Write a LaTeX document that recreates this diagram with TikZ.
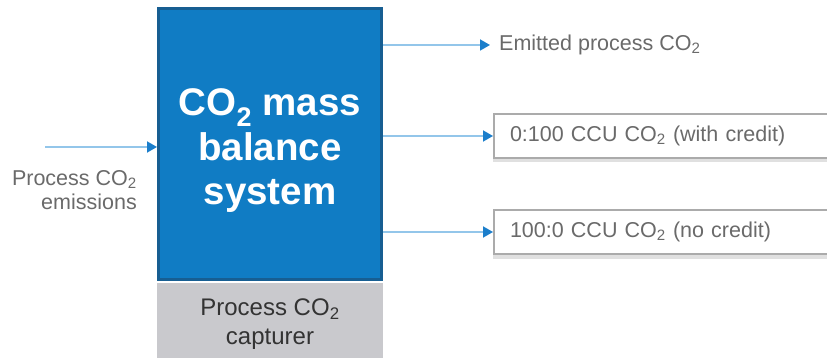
\documentclass[tikz,border=0pt]{standalone}
\usepackage{fontspec}
\setmainfont{Liberation Sans}
\usetikzlibrary{arrows.meta}
\definecolor{massblue}{HTML}{107CC4}
\definecolor{massedge}{HTML}{175E92}
\definecolor{capgray}{HTML}{C9C9CD}
\definecolor{flowline}{HTML}{93C6EA}
\definecolor{tipblue}{HTML}{1B7ECB}
\definecolor{labelgray}{HTML}{6A6A6A}
\definecolor{boxedge}{HTML}{ABABAB}
\definecolor{boxshade}{HTML}{E0E0E0}
\tikzset{
  massbox/.style={draw=massedge, line width=3pt, fill=massblue,
    minimum width=223pt, minimum height=271pt, inner sep=0pt},
  masstext/.style={text=white, font=\fontsize{38.5}{44.5}\selectfont\bfseries,
    align=center, inner sep=0pt},
  capbox/.style={fill=capgray, minimum width=226pt, minimum height=75pt, inner sep=0pt},
  captext/.style={text=black!80, font=\fontsize{24}{29}\selectfont,
    align=center, inner sep=0pt},
  outbox/.style={draw=boxedge, line width=2pt, fill=white, text=labelgray,
    font=\fontsize{21.5}{24}\selectfont, anchor=west, align=left,
    minimum width=360pt, minimum height=44pt, inner xsep=16pt, text width=328pt},
  flowlabel/.style={text=labelgray, font=\fontsize{21.5}{24}\selectfont},
  flow/.style={draw=flowline, line width=1.8pt,
    -{Triangle[color=tipblue, length=10pt, width=11pt]}}
}
\begin{document}
\begin{tikzpicture}[x=1pt, y=-1pt]
\useasboundingbox (0,0) rectangle (827,358);
% central mass balance block and the capturer beneath it
\node[massbox] (mb) at (270,144) {};
\node[masstext] (mbtext) at (270,151) {CO\textsubscript{2} mass\\balance\\system};
\node[capbox] (cap) at (270,320.5) {};
\node[captext] (captext) at (270,324) {Process CO\textsubscript{2}\\capturer};
% output boxes (with a light shadow along the bottom)
\fill[boxshade] (493,158) rectangle (840,162.5);
\fill[boxshade] (493,254) rectangle (840,258.5);
\node[outbox] (b1) at (493,136) {0:100 CCU CO\textsubscript{2} (with credit)};
\node[outbox] (b2) at (493,232) {100:0 CCU CO\textsubscript{2} (no credit)};
% labels
\node[flowlabel, anchor=west, inner xsep=9pt] (emit) at (490,45) {Emitted process CO\textsubscript{2}};
\node[flowlabel, anchor=east, align=right, inner sep=0pt] (src) at (137,190) {Process CO\textsubscript{2}\\emissions};
% flows
\coordinate (in) at (45,147);
\draw[flow] (in) -- (in -| mb.west);
\draw[flow] (mb.east |- emit.west) -- (emit.west);
\draw[flow] (mb.east |- b1.west) -- (b1.west);
\draw[flow] (mb.east |- b2.west) -- (b2.west);
\end{tikzpicture}
\end{document}
